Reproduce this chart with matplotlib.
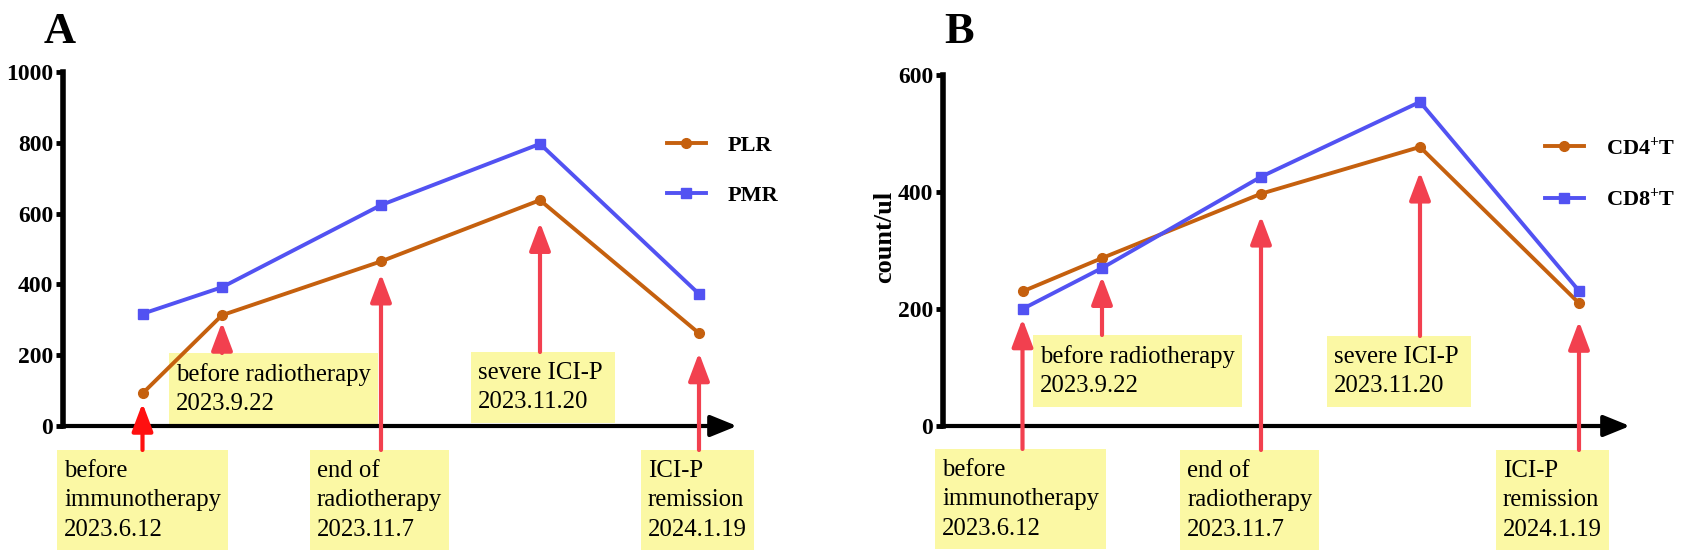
import matplotlib
matplotlib.use("Agg")
import matplotlib.pyplot as plt

plt.rcParams["font.family"] = ["Liberation Serif", "DejaVu Serif"]
plt.rcParams["mathtext.fontset"] = "custom"
plt.rcParams["mathtext.rm"] = "Liberation Serif"
plt.rcParams["mathtext.bf"] = "Liberation Serif:bold"

# time points (categorical, first one sits half a step from the axis)
stage_labels = [
    "before\nimmunotherapy\n2023.6.12",
    "before radiotherapy\n2023.9.22",
    "end of\nradiotherapy\n2023.11.7",
    "severe ICI-P \n2023.11.20",
    "ICI-P\nremission\n2024.1.19",
]
x_pos = [0.5, 1, 2, 3, 4]

# panel A
plr = [92, 313, 465, 638, 262]
pmr = [317, 392, 624, 797, 373]

# panel B
cd4 = [230, 287, 397, 477, 210]
cd8 = [200, 270, 426, 554, 231]

ORANGE = "#C5600E"
BLUE = "#5252F2"
RED = "#F2404F"
BOX = "#FBF8A4"

fig = plt.figure(figsize=(16.88, 5.6), dpi=100)
axA = fig.add_axes([63 / 1688, 134 / 560, 674 / 1688, 354 / 560])
axB = fig.add_axes([943 / 1688, 134 / 560, 687 / 1688, 351 / 560])


def style_axis(ax, ymax, step, xmax):
    ax.set_xlim(0, xmax)
    ax.set_ylim(0, ymax)
    for s in ("top", "right", "bottom"):
        ax.spines[s].set_visible(False)
    ax.spines["left"].set_linewidth(4)
    ax.set_xticks([])
    ax.set_yticks(range(0, ymax + 1, step))
    ax.tick_params(axis="y", length=5, width=3.5, pad=2, labelsize=17)
    for lab in ax.get_yticklabels():
        lab.set_fontweight("bold")
    ax.annotate("", xy=(1, 0), xytext=(0, 0), xycoords="axes fraction",
                arrowprops=dict(arrowstyle="-|>,head_length=1.6,head_width=0.65",
                                lw=3, color="black", shrinkA=0, shrinkB=0,
                                mutation_scale=10), zorder=3)


def draw_lines(ax, s1, s2, names, leg_xy):
    ax.plot(x_pos, s1, color=ORANGE, lw=2.8, marker="o", ms=7, label=names[0],
            zorder=5, clip_on=False)
    ax.plot(x_pos, s2, color=BLUE, lw=2.8, marker="s", ms=7, label=names[1],
            zorder=5, clip_on=False)
    leg = ax.legend(loc="upper left", bbox_to_anchor=leg_xy, frameon=False,
                    prop={"weight": "bold", "size": 16}, handlelength=1.75,
                    handletextpad=1.0, labelspacing=1.3, borderpad=0,
                    borderaxespad=0)
    return leg


def draw_notes(ax, lower, text_x, box_top, tip_gap, colors):
    # box_top in axes pixels (relative to the x-axis), tip_gap in points
    for i, lab in enumerate(stage_labels):
        ax.annotate(lab, xy=(text_x[i], box_top[i] - 10),
                    xycoords=("data", "axes pixels"), ha="left", va="top",
                    fontsize=17.8, linespacing=1.43, zorder=2, annotation_clip=False,
                    bbox=dict(boxstyle="square,pad=0.28", fc=BOX, ec="none",
                              mutation_aspect=1.4))
        ax.annotate("", xy=(x_pos[i], lower[i]), xycoords="data",
                    xytext=(x_pos[i], box_top[i]), textcoords=("data", "axes pixels"),
                    annotation_clip=False, zorder=6,
                    arrowprops=dict(arrowstyle="-|>,head_length=1.7,head_width=0.64",
                                    lw=3, color=colors[i], shrinkA=0,
                                    shrinkB=tip_gap[i], mutation_scale=10))


style_axis(axA, 1000, 200, 674 / 159)
draw_lines(axA, plr, pmr, ["PLR", "PMR"], (0.896, 0.82))
draw_notes(axA, [min(a, b) for a, b in zip(plr, pmr)],
           [0.006, 0.711, 1.597, 2.61, 3.679],
           [-24, 73, -24, 74, -24],
           [7, 5, 9, 16, 14],
           ["#FF1010", RED, RED, RED, RED])

style_axis(axB, 600, 200, 687 / 159)
draw_lines(axB, cd4, cd8, [r"CD4$\mathbf{^{+}}$T", r"CD8$\mathbf{^{+}}$T"], (0.876, 0.825))
draw_notes(axB, [min(a, b) for a, b in zip(cd4, cd8)],
           [-0.006, 0.61, 1.535, 2.459, 3.522],
           [-23, 91, -24, 90, -24],
           [7, 6, 16, 18, 13],
           [RED] * 5)
axB.set_ylabel("count/ul", fontsize=19, fontweight="bold")
axB.yaxis.set_label_coords(-0.068, 0.54)

fig.text(44 / 1688, 1 - 12 / 560, "A", fontsize=32, fontweight="bold", va="top")
fig.text(944 / 1688, 1 - 12 / 560, "B", fontsize=32, fontweight="bold", va="top")

fig.savefig("out.png", dpi=100)
